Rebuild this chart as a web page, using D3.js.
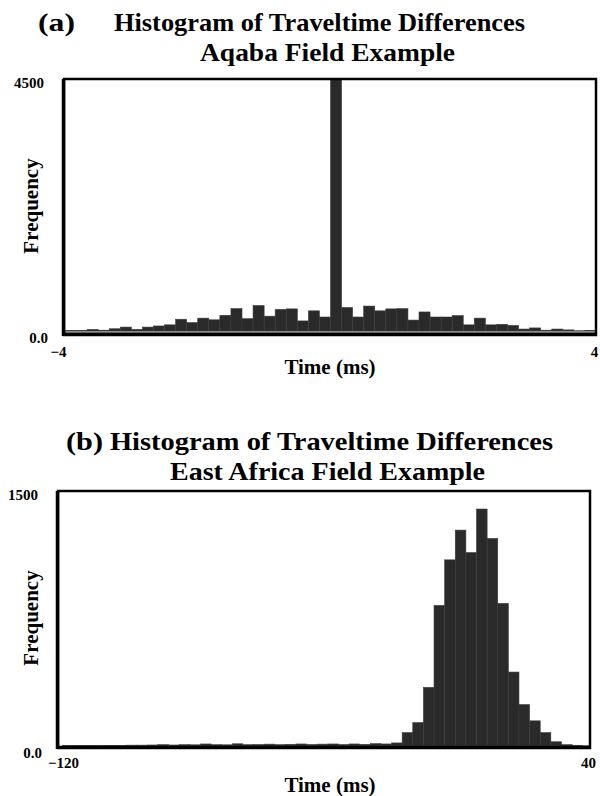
<!DOCTYPE html>
<html>
<head>
<meta charset="utf-8">
<script src="https://cdn.jsdelivr.net/npm/d3@7"></script>
<style>
  body { margin: 0; background: #fff; }
  svg text { font-family: "Liberation Serif", "Times New Roman", serif; font-weight: bold; fill: #000; }
</style>
</head>
<body>
<svg id="chart" width="600" height="796"></svg>
<script>
// panel (a): Aqaba, 48 bins of 1/6 ms from -4 to 4
var binStartA = -4, binWidthA = 1 / 6;
var countsA = [8, 10, 30, 15, 40, 70, 30, 70, 90, 110, 210, 150,
               230, 200, 280, 400, 220, 455, 265, 385, 395, 180, 360, 250,
               4600, 420, 250, 445, 360, 395, 400, 195, 340, 250, 250, 275,
               110, 230, 110, 120, 100, 35, 55, 15, 35, 20, 5, 12];
var xTicksA = [-4, 4], yTicksA = [0, 4500];

// panel (b): East Africa, 50 bins of 3.2 ms
var binStartB = -119, binWidthB = 3.2;
var countsB = [2, 2, 3, 3, 4, 4, 5, 5, 6, 8, 6, 8, 7, 12, 8, 7, 13, 8, 9, 11,
               8, 10, 12, 9, 11, 12, 9, 12, 10, 14, 12, 18, 79, 138, 345, 827, 1095, 1270, 1138, 1394,
               1221, 839, 435, 244, 148, 79, 25, 8, 3, 1];
var xTicksB = [-120, 40], yTicksB = [0, 1500];

var svg = d3.select("#chart");

function panel(cfg) {
    var x = d3.scaleLinear().domain(cfg.xDomain).range([cfg.left, cfg.right]);
    var y = d3.scaleLinear().domain(cfg.yDomain).range([cfg.base, cfg.top]);
    var g = svg.append("g");

    g.append("clipPath").attr("id", cfg.id + "clip")
        .append("rect")
        .attr("x", cfg.left).attr("y", cfg.top)
        .attr("width", cfg.right - cfg.left).attr("height", cfg.base - cfg.top);

    var bins = cfg.counts.map(function(c, i) {
        return {x0: cfg.binStart + i * cfg.binWidth, x1: cfg.binStart + (i + 1) * cfg.binWidth, n: c};
    });

    g.append("g").attr("clip-path", "url(#" + cfg.id + "clip)")
        .selectAll("rect")
        .data(bins)
        .enter().append("rect")
        .attr("fill", "#2a2a2a")
        .attr("stroke", "#3c3c3c")
        .attr("stroke-width", 0.6)
        .attr("x", function(d) { return x(d.x0); })
        .attr("width", function(d) { return x(d.x1) - x(d.x0); })
        .attr("y", function(d) { return y(d.n); })
        .attr("height", function(d) { return cfg.base - y(d.n); });

    if (cfg.band) {
        g.append("rect").attr("x", cfg.left).attr("y", cfg.base)
            .attr("width", cfg.right - cfg.left).attr("height", 2)
            .attr("fill", "#8a8a8a");
    }

    // frame
    g.append("rect")
        .attr("x", cfg.left - 1).attr("y", cfg.top)
        .attr("width", cfg.right - cfg.left + 1).attr("height", cfg.bottom - cfg.top)
        .attr("fill", "none").attr("stroke", "#000").attr("stroke-width", 2.5);
    g.append("line")
        .attr("x1", cfg.left - 1.5).attr("x2", cfg.left - 1.5)
        .attr("y1", cfg.top).attr("y2", cfg.bottom + 1.5)
        .attr("stroke", "#000").attr("stroke-width", 3.5);
    g.append("line")
        .attr("x1", cfg.left - 2).attr("x2", cfg.right + 1)
        .attr("y1", cfg.bottom).attr("y2", cfg.bottom)
        .attr("stroke", "#000").attr("stroke-width", 3.5);

    // axes: labels only
    var yAxis = g.append("g")
        .attr("transform", "translate(" + (cfg.left - 3) + ",0)")
        .call(d3.axisLeft(y).tickValues(cfg.yTicks).tickSize(0).tickPadding(0)
            .tickFormat(function(d) { return d === 0 ? "0.0" : d; }));
    yAxis.select(".domain").remove();
    yAxis.selectAll("text")
        .attr("font-size", 15).attr("font-family", null)
        .attr("dy", function(d) { return d === 0 ? "0.75em" : "0.55em"; })
        .attr("x", function(d) { return d === 0 ? -14 : -18; });

    var xAxis = g.append("g")
        .attr("transform", "translate(0," + cfg.bottom + ")")
        .call(d3.axisBottom(x).tickValues(cfg.xTicks).tickSize(0).tickPadding(0));
    xAxis.select(".domain").remove();
    xAxis.selectAll("text")
        .attr("font-size", 15).attr("font-family", null)
        .attr("y", cfg.xTickY)
        .attr("dx", function(d, i) { return i === 0 ? cfg.xTickDx : -2; });

    g.append("text")
        .attr("x", 330).attr("y", cfg.timeY)
        .attr("text-anchor", "middle").attr("font-size", 21)
        .text("Time (ms)");

    g.append("text")
        .attr("transform", "translate(38," + cfg.freqY + ") rotate(-90)")
        .attr("text-anchor", "middle").attr("font-size", 21)
        .text("Frequency");

    // titles
    g.append("text").attr("x", cfg.tagX).attr("y", cfg.t1)
        .attr("font-size", 26).attr("textLength", 37).attr("lengthAdjust", "spacingAndGlyphs")
        .text(cfg.tag);
    g.append("text").attr("x", cfg.h1x).attr("y", cfg.t1)
        .attr("font-size", 26).attr("textLength", cfg.h1w).attr("lengthAdjust", "spacingAndGlyphs")
        .text("Histogram of Traveltime Differences");
    g.append("text").attr("x", cfg.h2x).attr("y", cfg.t2)
        .attr("font-size", 26).attr("textLength", cfg.h2w).attr("lengthAdjust", "spacingAndGlyphs")
        .text(cfg.sub);
}

panel({
    id: "a", counts: countsA, binStart: binStartA, binWidth: binWidthA,
    xDomain: [-4, 4], yDomain: [0, 4500], xTicks: xTicksA, yTicks: yTicksA,
    left: 65, right: 596, top: 79, base: 331, bottom: 334.5, band: true,
    xTickY: 12, xTickDx: -7, timeY: 374, freqY: 206,
    tag: "(a)", tagX: 38, h1x: 114, h1w: 411, h2x: 200, h2w: 255,
    t1: 31, t2: 61, sub: "Aqaba Field Example"
});

panel({
    id: "b", counts: countsB, binStart: binStartB, binWidth: binWidthB,
    xDomain: [-120, 40], yDomain: [0, 1500], xTicks: xTicksB, yTicks: yTicksB,
    left: 59, right: 590, top: 491, base: 746, bottom: 747.5, band: false,
    xTickY: 10, xTickDx: 4, timeY: 792, freqY: 618,
    tag: "(b)", tagX: 66, h1x: 110, h1w: 443, h2x: 170, h2w: 315,
    t1: 450, t2: 480, sub: "East Africa Field Example"
});
</script>
</body>
</html>
